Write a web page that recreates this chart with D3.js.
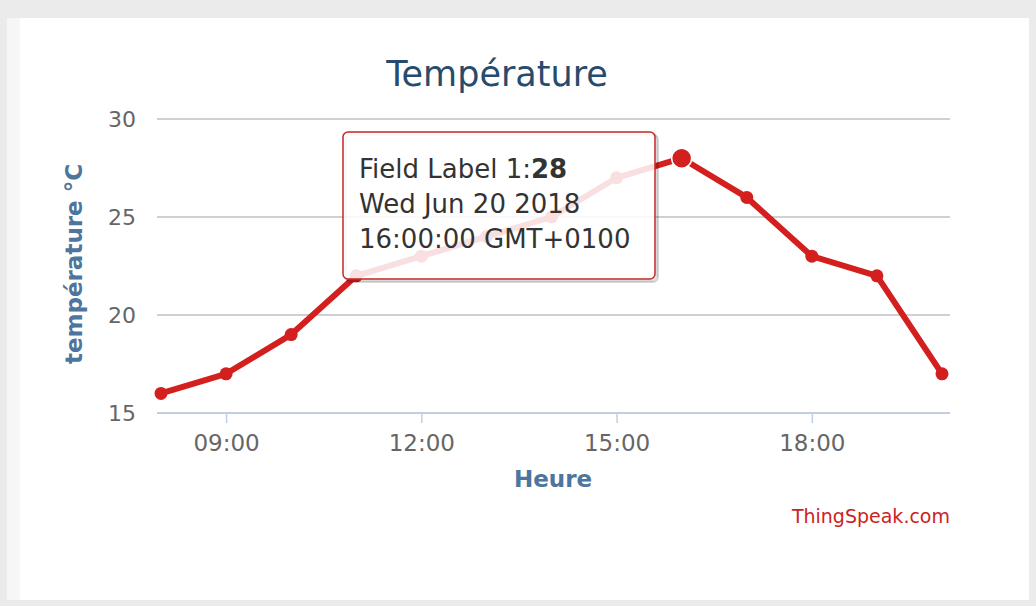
<!DOCTYPE html>
<html>
<head>
<meta charset="utf-8">
<script src="https://cdn.jsdelivr.net/npm/d3@7"></script>
<style>
  body { margin: 0; background: #ebebeb; }
  svg { display: block; }
  svg text { font-family: 'DejaVu Sans', 'Lucida Grande', Verdana, sans-serif; }
  .tick-label { fill: #666; font-size: 22px; }
  .axis-title { fill: #4d759e; font-size: 23px; font-weight: bold; }
</style>
</head>
<body>
<div id="main"></div>
<script>
// data (Wed Jun 20 2018)
var hours = ['08:00', '09:00', '10:00', '11:00', '12:00', '13:00', '14:00',
  '15:00', '16:00', '17:00', '18:00', '19:00', '20:00'];
var temps = [16, 17, 19, 22, 23, 24, 25, 27, 28, 26, 23, 22, 17];
var yTicks = [15, 20, 25, 30];
var hoverIndex = 8;

var svgWidth = 1036;
var svgHeight = 606;

var plot = { l: 157, r: 950, t: 119, b: 413 };

var parseTime = d3.timeParse('%Y-%m-%d %H:%M');
var dataset = hours.map(function (h, i) {
  return { date: parseTime('2018-06-20 ' + h), temp: temps[i] };
});

var svg = d3.select('#main')
  .append('svg')
  .attr('width', svgWidth)
  .attr('height', svgHeight);

// page background and white panel
svg.append('rect')
  .attr('width', svgWidth)
  .attr('height', svgHeight)
  .attr('fill', '#ebebeb');

svg.append('rect')
  .attr('x', 7).attr('y', 18)
  .attr('width', 13).attr('height', 582)
  .attr('fill', '#f6f6f6');

svg.append('rect')
  .attr('x', 20).attr('y', 18)
  .attr('width', 1009).attr('height', 582)
  .attr('fill', '#ffffff');

// scales
var xScale = d3.scaleTime()
  .domain(d3.extent(dataset, function (d) { return d.date; }))
  .range([161, 942]);

var yScale = d3.scaleLinear()
  .domain([15, 30])
  .range([plot.b, plot.t]);

// title
svg.append('text')
  .text('Température')
  .attr('x', 497)
  .attr('y', 86)
  .attr('text-anchor', 'middle')
  .attr('fill', '#274b6d')
  .style('font-size', '35px');

// horizontal grid lines
svg.append('g')
  .selectAll('line')
  .data(yTicks.filter(function (d) { return d > 15; }))
  .enter()
  .append('line')
  .attr('x1', plot.l)
  .attr('x2', plot.r)
  .attr('y1', function (d) { return yScale(d); })
  .attr('y2', function (d) { return yScale(d); })
  .attr('stroke', '#c0c0c0')
  .attr('stroke-width', 1.5);

// y axis labels
svg.append('g')
  .selectAll('text')
  .data(yTicks)
  .enter()
  .append('text')
  .attr('class', 'tick-label')
  .attr('x', 136)
  .attr('y', function (d) { return yScale(d) + 8; })
  .attr('text-anchor', 'end')
  .text(function (d) { return d; });

// x axis
var xAxis = d3.axisBottom(xScale)
  .ticks(d3.timeHour.every(3))
  .tickFormat(d3.timeFormat('%H:%M'))
  .tickSize(10)
  .tickPadding(6);

var xAxisG = svg.append('g')
  .attr('transform', 'translate(0,' + plot.b + ')')
  .call(xAxis);

xAxisG.select('.domain').remove();
xAxisG.selectAll('.tick line')
  .attr('stroke', '#c0d0e0')
  .attr('stroke-width', 1.5);
xAxisG.selectAll('.tick text')
  .attr('class', 'tick-label')
  .attr('fill', null)
  .attr('dy', '0.95em')
  .style('font-size', '23px');

svg.append('line')
  .attr('x1', plot.l)
  .attr('x2', plot.r)
  .attr('y1', plot.b)
  .attr('y2', plot.b)
  .attr('stroke', '#c0d0e0')
  .attr('stroke-width', 2);

// axis titles
svg.append('text')
  .attr('class', 'axis-title')
  .attr('transform', 'translate(82,264) rotate(-90)')
  .attr('text-anchor', 'middle')
  .text('température °C');

svg.append('text')
  .attr('class', 'axis-title')
  .attr('x', 553)
  .attr('y', 487)
  .attr('text-anchor', 'middle')
  .text('Heure');

// credits
svg.append('text')
  .attr('x', 950)
  .attr('y', 523)
  .attr('text-anchor', 'end')
  .attr('fill', '#cc2222')
  .style('font-size', '19px')
  .text('ThingSpeak.com');

// the temperature line
var line = d3.line()
  .x(function (d) { return xScale(d.date); })
  .y(function (d) { return yScale(d.temp); });

svg.append('path')
  .datum(dataset)
  .attr('d', line)
  .attr('fill', 'none')
  .attr('stroke', '#d41f1f')
  .attr('stroke-width', 6)
  .attr('stroke-linejoin', 'round');

svg.append('g')
  .selectAll('circle')
  .data(dataset)
  .enter()
  .append('circle')
  .attr('cx', function (d) { return xScale(d.date); })
  .attr('cy', function (d) { return yScale(d.temp); })
  .attr('r', function (d, i) { return i == hoverIndex ? 10 : 6.5; })
  .attr('fill', '#d41f1f')
  .attr('stroke', function (d, i) { return i == hoverIndex ? '#ffffff' : 'none'; })
  .attr('stroke-width', 1.5);

// tooltip for the hovered point
var hovered = dataset[hoverIndex];
var tipG = svg.append('g')
  .attr('transform', 'translate(343,132)');

[3, 2, 1].forEach(function (o) {
  tipG.append('rect')
    .attr('x', o).attr('y', o)
    .attr('width', 312).attr('height', 147)
    .attr('rx', 5)
    .attr('fill', 'none')
    .attr('stroke', '#000')
    .attr('stroke-opacity', 0.05 * o)
    .attr('stroke-width', 2);
});

tipG.append('rect')
  .attr('width', 312)
  .attr('height', 147)
  .attr('rx', 5)
  .attr('fill', '#ffffff')
  .attr('fill-opacity', 0.86)
  .attr('stroke', '#c42727')
  .attr('stroke-width', 1.5);

var tipText = tipG.append('text')
  .attr('fill', '#333')
  .style('font-size', '26px');

tipText.append('tspan')
  .attr('x', 16)
  .attr('y', 46)
  .text('Field Label 1:');
tipText.append('tspan')
  .style('font-weight', 'bold')
  .text(hovered.temp);

tipText.append('tspan')
  .attr('x', 16)
  .attr('y', 81)
  .text(d3.timeFormat('%a %b %d %Y')(hovered.date));

tipText.append('tspan')
  .attr('x', 16)
  .attr('y', 116)
  .text(d3.timeFormat('%H:%M:%S')(hovered.date) + ' GMT+0100');
</script>
</body>
</html>
